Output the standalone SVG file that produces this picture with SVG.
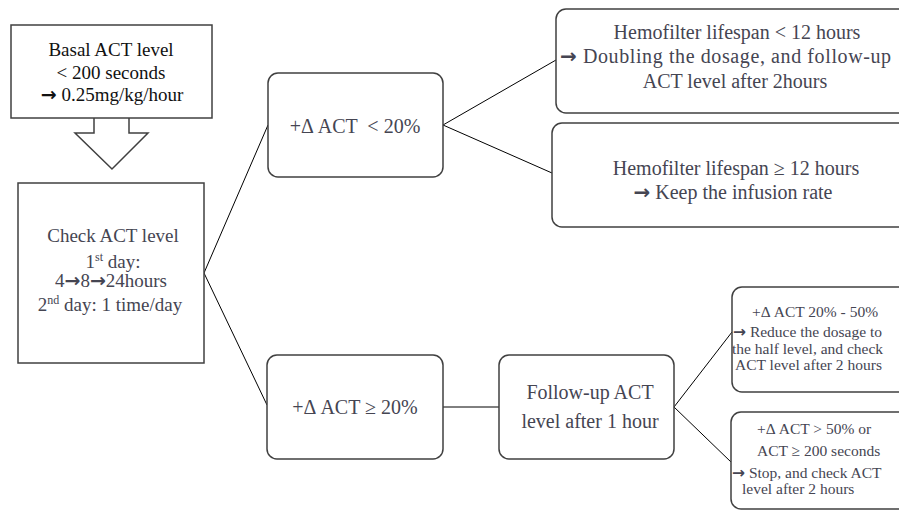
<svg xmlns="http://www.w3.org/2000/svg" width="899" height="514" viewBox="0 0 899 514">
<style>
.box{fill:#fff;stroke:#404040;stroke-width:1.5}
.rbox{fill:#fff;stroke:#404040;stroke-width:1.5}
.ln{fill:none;stroke:#000;stroke-width:1}
text{font-family:'Liberation Serif','DejaVu Serif',serif;fill:#454552}
.t20{font-size:20px}
.t19{font-size:19px}
.t16{font-size:15.5px}
.blk{fill:#111}
.ar{font-family:'DejaVu Sans',sans-serif;font-weight:bold}
</style>
<rect width="899" height="514" fill="#fff"/>
<g id="connectors">
<polyline class="ln" points="268,125 204,273 267,405"/>
<line class="ln" x1="443" y1="407" x2="499" y2="407"/>
<polyline class="ln" points="556,60 443,125 552,173"/>
<polyline class="ln" points="732,332 674,407 731,462"/>
</g>
<g id="basal">
<polygon class="box" points="94,117 94,133 75,133 112,169 148,133 129,133 129,117"/>
<rect class="box" x="11" y="25" width="201" height="93"/>
<text class="t19 blk" text-anchor="middle"><tspan x="111" y="56">Basal ACT level</tspan><tspan x="111" y="79">&lt; 200 seconds</tspan><tspan x="112" y="101"><tspan class="ar">→</tspan> 0.25mg/kg/hour</tspan></text>
</g>
<g id="check">
<rect class="box" x="18" y="183" width="186" height="180"/>
<text class="t19" text-anchor="middle"><tspan x="113" y="242">Check ACT level</tspan><tspan x="113" y="268">1<tspan font-size="12" dy="-7">st</tspan><tspan dy="7"> day:</tspan></tspan><tspan x="111" y="287">4<tspan class="ar">→</tspan>8<tspan class="ar">→</tspan>24hours</tspan><tspan x="110" y="311">2<tspan font-size="12" dy="-7">nd</tspan><tspan dy="7"> day: 1 time/day</tspan></tspan></text>
</g>
<g id="lt20">
<rect class="rbox" x="268" y="73" width="175" height="104" rx="10"/>
<text class="t20" x="355" y="133" text-anchor="middle" xml:space="preserve">+Δ ACT  &lt; 20%</text>
</g>
<g id="ge20">
<rect class="rbox" x="267" y="355" width="176" height="104" rx="10"/>
<text class="t20" x="355" y="414" text-anchor="middle">+Δ ACT ≥ 20%</text>
</g>
<g id="followup">
<rect class="rbox" x="499" y="355" width="175" height="104" rx="10"/>
<text class="t20" text-anchor="middle"><tspan x="590" y="399">Follow-up ACT</tspan><tspan x="590" y="428">level after 1 hour</tspan></text>
</g>
<g id="hemo-lt12">
<rect class="rbox" x="556" y="9" width="360" height="104" rx="10"/>
<text class="t20" text-anchor="middle"><tspan x="737" y="39">Hemofilter lifespan &lt; 12 hours</tspan><tspan x="735" y="88">ACT level after 2hours</tspan></text>
<text class="t20" x="560" y="63" letter-spacing="0.6"><tspan class="ar">→</tspan> Doubling the dosage, and follow-up</text>
</g>
<g id="hemo-ge12">
<rect class="rbox" x="552" y="123" width="360" height="104" rx="10"/>
<text class="t20" text-anchor="middle"><tspan x="736" y="175">Hemofilter lifespan ≥ 12 hours</tspan><tspan x="733" y="199"><tspan class="ar">→</tspan> Keep the infusion rate</tspan></text>
</g>
<g id="act20-50">
<rect class="rbox" x="732" y="287" width="200" height="105" rx="10"/>
<text class="t16"><tspan x="752" y="317">+Δ ACT 20% - 50%</tspan><tspan x="733" y="337"><tspan class="ar">→</tspan> Reduce the dosage to</tspan><tspan x="732" y="354">the half level, and check</tspan><tspan x="735" y="370">ACT level after 2 hours</tspan></text>
</g>
<g id="act50">
<rect class="rbox" x="731" y="412" width="200" height="97" rx="10"/>
<text class="t16"><tspan x="757" y="434">+Δ ACT &gt; 50% or</tspan><tspan x="757" y="456">ACT ≥ 200 seconds</tspan><tspan x="732" y="478"><tspan class="ar">→</tspan> Stop, and check ACT</tspan><tspan x="742" y="494">level after 2 hours</tspan></text>
</g>
</svg>
